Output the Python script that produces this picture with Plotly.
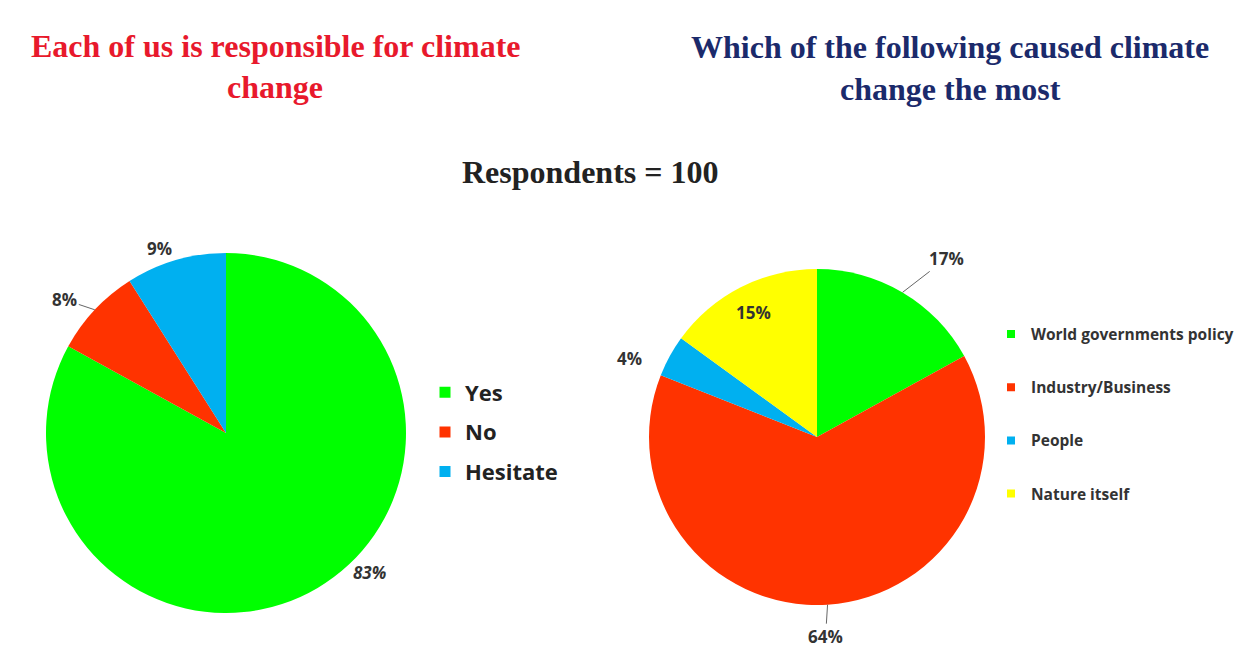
import math
import plotly.graph_objects as go

# Survey 1: "Each of us is responsible for climate change"
resp_labels = ["Yes", "No", "Hesitate"]
resp_values = [83, 8, 9]
resp_colors = ["#00FF00", "#FF3300", "#00B0F0"]

# Survey 2: "Which of the following caused climate change the most"
cause_labels = ["World governments policy", "Industry/Business", "People", "Nature itself"]
cause_values = [17, 64, 4, 15]
cause_colors = ["#00FF00", "#FF3300", "#00B0F0", "#FFFF00"]

respondents = 100

W, H = 1240, 648
LABEL_FONT = "'Open Sans', Lato, sans-serif"
LEGEND_FONT = "'Open Sans', Lato, sans-serif"
TITLE_FONT = "'Liberation Serif', 'Times New Roman', serif"

# Pie placement in pixels: centre x, centre y, radius
LEFT_PIE = (226, 433, 180)
RIGHT_PIE = (817, 437, 168)

# Data-label styling per slice: (dx, dy) pixel offset of the text from the
# slice's outer edge at its mid-angle (or radial fraction when inside),
# whether a leader line is drawn, and italic text.
resp_label_style = [
    dict(dx=52, dy=-15, leader=False, italic=True),
    dict(dx=-30, dy=-10, leader=True, italic=False),
    dict(dx=-16, dy=-12, leader=False, italic=False),
]
cause_label_style = [
    dict(dx=44, dy=-34, leader=True, italic=False),
    dict(dx=-2, dy=32, leader=True, italic=False),
    dict(dx=-40, dy=2, leader=False, italic=False),
    dict(inside=0.83, leader=False, italic=False),
]


def domain_of(pie):
    cx, cy, r = pie
    return dict(x=[(cx - r) / W, (cx + r) / W], y=[(H - cy - r) / H, (H - cy + r) / H])


def add_pie(labels, values, colors, pie):
    fig.add_trace(go.Pie(
        labels=labels, values=values,
        marker=dict(colors=colors, line=dict(width=0)),
        sort=False, direction="clockwise", rotation=0,
        textinfo="none",
        domain=domain_of(pie),
        showlegend=False, hoverinfo="label+percent",
    ))


def add_value_labels(values, pie, styles):
    cx, cy, r = pie
    total = sum(values)
    cum = 0
    for v, st in zip(values, styles):
        mid = (cum + v / 2) / total * 2 * math.pi  # clockwise from 12 o'clock
        cum += v
        frac = st.get("inside", 1.0)
        px = cx + r * frac * math.sin(mid)
        py = cy - r * frac * math.cos(mid)
        text = f"{v}%"
        font = dict(family=LABEL_FONT, size=17, color="#333333", weight="bold",
                    style="italic" if st["italic"] else "normal")
        if st["leader"]:
            fig.add_annotation(
                x=px / W, y=1 - py / H, xref="paper", yref="paper",
                text=text, font=font, showarrow=True, arrowhead=0,
                arrowwidth=1, arrowcolor="#666666", ax=st["dx"], ay=st["dy"],
                standoff=0,
            )
        else:
            fig.add_annotation(
                x=px / W, y=1 - py / H, xref="paper", yref="paper",
                text=text, font=font, showarrow=False,
                xshift=st.get("dx", 0), yshift=-st.get("dy", 0),
                xanchor="center", yanchor="middle",
            )


fig = go.Figure()
add_pie(resp_labels, resp_values, resp_colors, LEFT_PIE)
add_pie(cause_labels, cause_values, cause_colors, RIGHT_PIE)
add_value_labels(resp_values, LEFT_PIE, resp_label_style)
add_value_labels(cause_values, RIGHT_PIE, cause_label_style)

# Legend entries (one group per category so the rows can be spaced out)
for lab, col in zip(resp_labels, resp_colors):
    fig.add_trace(go.Scatter(
        x=[None], y=[None], mode="markers", name=lab,
        marker=dict(symbol="square", size=11, color=col),
        legend="legend", legendgroup="r_" + lab, showlegend=True,
    ))
for lab, col in zip(cause_labels, cause_colors):
    fig.add_trace(go.Scatter(
        x=[None], y=[None], mode="markers", name=lab,
        marker=dict(symbol="square", size=8, color=col),
        legend="legend2", legendgroup="c_" + lab, showlegend=True,
    ))

titles = [
    ("Each of us is responsible for climate", 275, 46, "#E8192C"),
    ("change", 275, 87, "#E8192C"),
    ("Which of the following caused climate", 950, 47, "#1B2A6B"),
    ("change the most", 950, 89, "#1B2A6B"),
    (f"Respondents = {respondents}", 590, 172, "#222222"),
]
for text, cx, cy, color in titles:
    fig.add_annotation(
        text=f"<b>{text}</b>", xref="paper", yref="paper",
        x=cx / W, y=1 - cy / H, xanchor="center", yanchor="middle",
        showarrow=False, font=dict(family=TITLE_FONT, size=32, color=color),
    )

fig.update_layout(
    width=W, height=H,
    margin=dict(l=0, r=0, t=0, b=0),
    paper_bgcolor="white", plot_bgcolor="white",
    xaxis=dict(visible=False), yaxis=dict(visible=False),
    legend=dict(
        x=425 / W, y=1 - 432 / H, xanchor="left", yanchor="middle",
        font=dict(family=LEGEND_FONT, size=22, color="#222222", weight="bold"),
        tracegroupgap=8, bgcolor="rgba(0,0,0,0)",
    ),
    legend2=dict(
        x=991 / W, y=1 - 414 / H, xanchor="left", yanchor="middle",
        font=dict(family=LEGEND_FONT, size=15.5, color="#333333", weight="bold"),
        tracegroupgap=30, bgcolor="rgba(0,0,0,0)",
    ),
)

fig.write_html("out.html")
